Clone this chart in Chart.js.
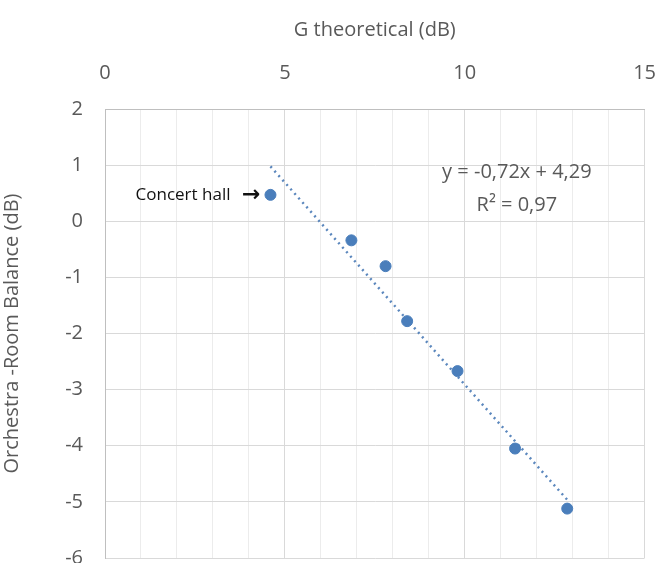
<!DOCTYPE html>
<html>
<head>
<meta charset="utf-8">
<script src="https://cdn.jsdelivr.net/npm/chart.js@4"></script>
<style>
  html, body { margin: 0; padding: 0; background: #fff; overflow: hidden; }
  #wrap { width: 662px; height: 563px; overflow: hidden; }
</style>
</head>
<body>
<div id="wrap"><canvas id="c" width="680" height="592"></canvas></div>
<script>
const gTheoretical = [4.6, 6.85, 7.8, 8.4, 9.8, 11.4, 12.85];
const balance = [0.47, -0.34, -0.8, -1.78, -2.67, -4.05, -5.12];
const slope = -0.72;
const intercept = 4.29;
const trendX = [4.6, 12.9];
const equationText = ['y = -0,72x + 4,29', 'R² = 0,97'];
const pointLabel = 'Concert hall';

const labelPlugin = {
  id: 'labels',
  afterDatasetsDraw (chart) {
    const { ctx, scales: { x, y } } = chart;
    const px = x.getPixelForValue(gTheoretical[0]);
    const py = y.getPixelForValue(balance[0]);
    ctx.save();
    ctx.fillStyle = '#111';
    ctx.textAlign = 'right';
    ctx.textBaseline = 'middle';
    ctx.font = 'bold 22px "DejaVu Sans", sans-serif';
    ctx.fillText('→', px - 10, py);
    ctx.font = '17px "Open Sans", sans-serif';
    ctx.fillText(pointLabel, px - 40, py);
    ctx.fillStyle = '#595959';
    ctx.font = '20px "Open Sans", sans-serif';
    ctx.textAlign = 'center';
    ctx.fillText(equationText[0], x.getPixelForValue(11.45), y.getPixelForValue(0.88));
    ctx.fillText(equationText[1], x.getPixelForValue(11.45), y.getPixelForValue(0.29));
    ctx.restore();
  }
};

new Chart(document.getElementById('c'), {
  type: 'scatter',
  data: {
    datasets: [
      {
        data: gTheoretical.map((g, i) => ({ x: g, y: balance[i] })),
        backgroundColor: '#4a7ebb',
        borderColor: '#4a7ebb',
        pointRadius: 5.5,
        pointHoverRadius: 5.5
      },
      {
        type: 'line',
        data: trendX.map(g => ({ x: g, y: slope * g + intercept })),
        borderColor: '#5b87bd',
        borderWidth: 2.5,
        borderDash: [2, 4],
        pointRadius: 0,
        fill: false
      }
    ]
  },
  options: {
    responsive: false,
    animation: false,
    layout: { padding: { left: 0, right: 0, top: 0, bottom: 0 } },
    plugins: { legend: { display: false }, tooltip: { enabled: false } },
    scales: {
      x: {
        type: 'linear',
        position: 'top',
        min: 0,
        max: 15,
        afterFit: s => { s.height = 109; },
        ticks: {
          stepSize: 1,
          color: '#595959',
          font: { size: 20, family: '"Open Sans", sans-serif' },
          padding: 24,
          callback: v => (v % 5 === 0 ? v : '')
        },
        grid: {
          color: ctx => (ctx.tick && ctx.tick.value % 5 === 0 ? '#d9d9d9' : '#ececec'),
          drawTicks: false
        },
        border: { color: '#bfbfbf' },
        title: {
          display: true,
          text: 'G theoretical (dB)',
          color: '#595959',
          font: { size: 20, family: '"Open Sans", sans-serif' },
          padding: { top: 18, bottom: 4 }
        }
      },
      y: {
        min: -6,
        max: 2,
        afterFit: s => { s.width = 105; },
        ticks: {
          stepSize: 1,
          color: '#595959',
          font: { size: 20, family: '"Open Sans", sans-serif' },
          padding: 22
        },
        grid: { color: '#d9d9d9', drawTicks: false },
        border: { color: '#bfbfbf' },
        title: {
          display: true,
          text: 'Orchestra -Room Balance (dB)',
          color: '#595959',
          font: { size: 20, family: '"Open Sans", sans-serif' },
          padding: { top: 0, bottom: 4 }
        }
      }
    }
  },
  plugins: [labelPlugin]
});
</script>
</body>
</html>
